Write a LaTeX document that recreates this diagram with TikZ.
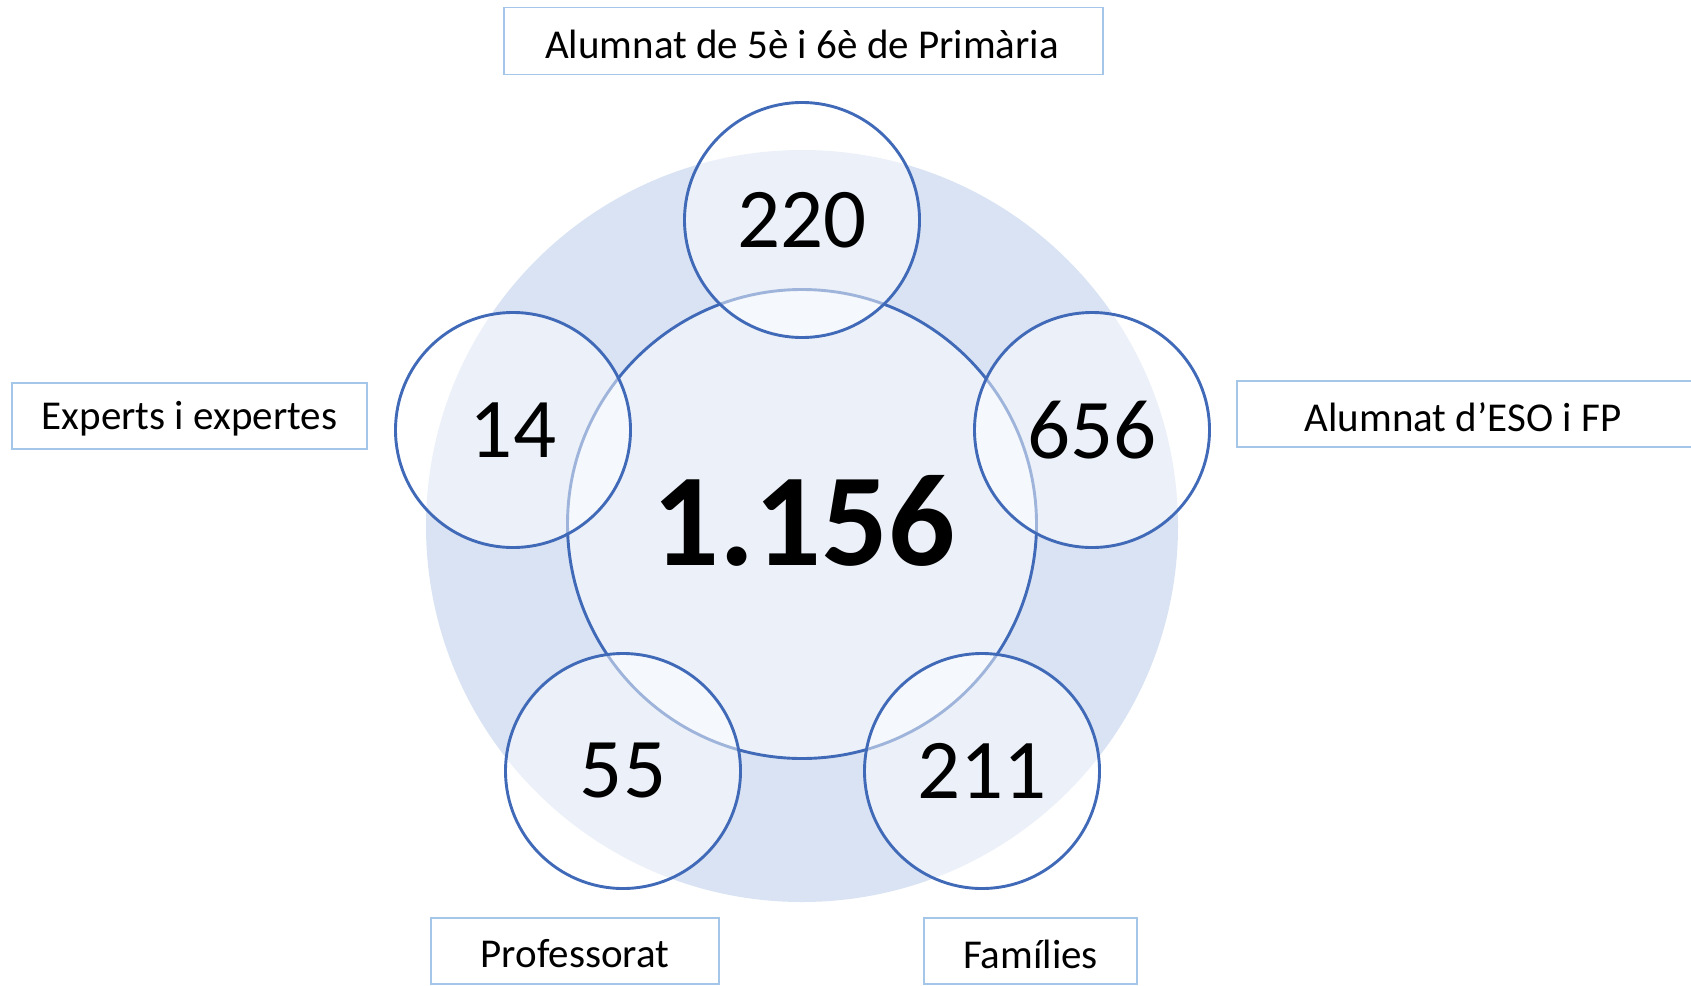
\documentclass[tikz,border=0pt]{standalone}
\usepackage{fontspec}
\setmainfont{Carlito}
\definecolor{bgblue}{RGB}{218,227,243}
\definecolor{ringblue}{RGB}{64,106,184}
\definecolor{boxblue}{RGB}{164,198,232}
\tikzset{
  ring/.style={circle, draw=ringblue, line width=2.9pt, fill=white, fill opacity=0.5, text opacity=1, inner sep=0pt},
  smallring/.style={ring, minimum size=235pt},
  bigring/.style={ring, minimum size=469pt},
  numtext/.style={font=\fontsize{85}{90}\selectfont},
  labelbox/.style={draw=boxblue, line width=1.4pt, inner sep=0pt, text depth=0pt, font=\fontsize{41}{44}\selectfont},
  labeltext/.style={font=\fontsize{41}{44}\selectfont}
}
\begin{document}
\begin{tikzpicture}[x=1pt,y=-1pt]
\useasboundingbox (0,0) rectangle (1691,985);
% background disc
\fill[bgblue] (802,526) circle (376);
% central circle
\node[bigring] (center) at (802,524) {};
\node[font=\fontsize{132}{140}\selectfont\bfseries] (total) at (804,521) {1.156};
% small circles
\node[smallring] (c220) at (802,220) {};
\node[smallring] (c656) at (1092,430) {};
\node[smallring] (c14) at (513,430) {};
\node[smallring] (c55) at (623,771) {};
\node[smallring] (c211) at (982,771) {};
\node[numtext] (n220) at (c220) {220};
\node[numtext] (n656) at (c656) {656};
\node[numtext] (n14) at (c14) {14};
\node[numtext] (n55) at (c55) {55};
\node[numtext] (n211) at (c211) {211};
% label boxes
\node[labelbox, minimum width=599pt, minimum height=67pt] (lprim) at (803.5,41) {};
\node[labeltext] (tprim) at (802,44) {Alumnat de 5è i 6è de Primària};
\node[labelbox, minimum width=460pt, minimum height=66pt] (leso) at (1467,414) {};
\node[labeltext] (teso) at (1463,417) {Alumnat d’ESO i FP};
\node[labelbox, minimum width=355pt, minimum height=66pt] (lexp) at (189.5,416) {};
\node[labeltext] (texp) at (189.5,419) {Experts i expertes};
\node[labelbox, minimum width=288pt, minimum height=66pt] (lprof) at (575,951) {};
\node[labeltext] (tprof) at (575,954) {Professorat};
\node[labelbox, minimum width=213pt, minimum height=66pt] (lfam) at (1030.5,951) {};
\node[labeltext] (tfam) at (1030.5,954) {Famílies};
\end{tikzpicture}
\end{document}
